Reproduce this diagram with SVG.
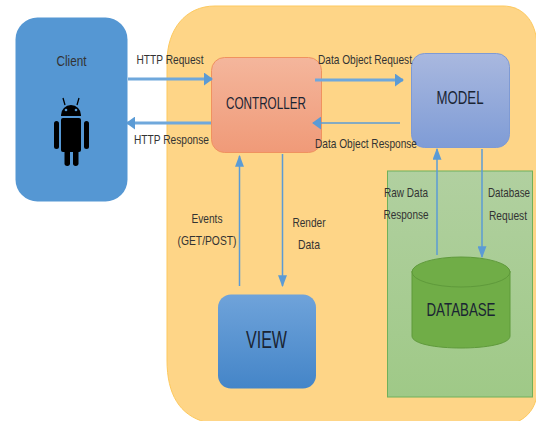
<svg xmlns="http://www.w3.org/2000/svg" width="536" height="421" viewBox="0 0 536 421">
<style>
text{font-family:"Liberation Sans",Arial,sans-serif;text-anchor:middle;fill:#333;}
.l{font-size:13px;}
.n{font-size:17px;fill:#1a2433;}
.c{fill:none;stroke:#5b9bd5;stroke-width:1.500;}
.t{stroke-width:3;stroke:#6fa8dc;}
</style>
<defs>
<linearGradient id="gO" x1="0" y1="0" x2="0" y2="1"><stop offset="0" stop-color="#f4b69c"/><stop offset="1" stop-color="#f09a78"/></linearGradient>
<linearGradient id="gM" x1="0" y1="0" x2="0" y2="1"><stop offset="0" stop-color="#a9b8df"/><stop offset="1" stop-color="#7f9cd6"/></linearGradient>
<linearGradient id="gV" x1="0" y1="0" x2="0" y2="1"><stop offset="0" stop-color="#6fa3da"/><stop offset="1" stop-color="#4485c8"/></linearGradient>
<linearGradient id="gG" x1="0" y1="0" x2="0" y2="1"><stop offset="0" stop-color="#b1d0a0"/><stop offset="1" stop-color="#9fc987"/></linearGradient>
<marker id="a" viewBox="0 0 10 10" refX="9" refY="5" markerWidth="9" markerHeight="13" markerUnits="userSpaceOnUse" orient="auto" preserveAspectRatio="none"><path d="M0 0L10 5L0 10Z" fill="#5b9bd5"/></marker>
<marker id="b" viewBox="0 0 10 10" refX="9" refY="5" markerWidth="12" markerHeight="9" markerUnits="userSpaceOnUse" orient="auto" preserveAspectRatio="none"><path d="M0 0L10 5L0 10Z" fill="#5b9bd5"/></marker>
</defs>
<rect width="536" height="421" fill="#fff"/>
<g id="app-container"><path d="M167 360C167 395 180 415 205 422H517C528 417 535 408 537 395V45C536 20 522 6 503 6H215C185 6 167 30 167 62Z" fill="#fed587" stroke="#fdc95e" stroke-width="1"/></g>
<g id="db-panel"><rect x="387.500" y="171" width="145" height="226" fill="url(#gG)" stroke="#6fb05a" stroke-width="1"/></g>
<g id="client">
<rect x="15.500" y="17.500" width="112" height="184" rx="22" fill="#5597d3"/>
<text class="l" x="71.500" y="66" style="font-size:15px" textLength="30" lengthAdjust="spacingAndGlyphs">Client</text>
<g fill="#000">
<path d="M61 115a10 10 0 0 1 20 0v1h-20z"/>
<path d="M65 105l-2 -7M77 105l2 -7" stroke="#000" stroke-width="1.300"/>
<rect x="61" y="118" width="20" height="34" rx="2"/>
<rect x="54" y="121" width="5" height="28" rx="2.500"/>
<rect x="84" y="121" width="5" height="28" rx="2.500"/>
<rect x="64.500" y="148" width="5.500" height="18" rx="2.700"/>
<rect x="73" y="148" width="5.500" height="18" rx="2.700"/>
</g>
<circle cx="66" cy="110" r="1.300" fill="#5597d3"/><circle cx="76" cy="110" r="1.300" fill="#5597d3"/>
</g>
<g id="controller"><rect x="211.500" y="57.500" width="110" height="95" rx="13" fill="url(#gO)" stroke="#f0925f"/><text class="n" x="266" y="109" textLength="80" lengthAdjust="spacingAndGlyphs">CONTROLLER</text></g>
<g id="model"><rect x="411.500" y="53.500" width="98" height="94" rx="13" fill="url(#gM)" stroke="#7e9ad4"/><text class="n" x="460" y="104" style="font-size:18px" textLength="47" lengthAdjust="spacingAndGlyphs">MODEL</text></g>
<g id="view"><rect x="218" y="294.500" width="98" height="94" rx="13" fill="url(#gV)"/><text class="n" x="266.500" y="348" style="font-size:23px" textLength="41" lengthAdjust="spacingAndGlyphs">VIEW</text></g>
<g id="database"><path d="M412 271V336C412 352 510 352 510 336V271Z" fill="#70ad47" stroke="#5f9a3b"/><ellipse cx="461" cy="272" rx="49" ry="15" fill="#70ad47" stroke="#5f9a3b"/><text class="n" x="461" y="316" style="font-size:19px" textLength="69" lengthAdjust="spacingAndGlyphs">DATABASE</text></g>
<g id="connectors">
<path class="c t" d="M128 79H212" marker-end="url(#a)"/>
<path class="c t" d="M211 123H127" marker-end="url(#a)"/>
<path class="c t" d="M315 80H403" marker-end="url(#a)"/>
<path class="c" d="M400 123H313" marker-end="url(#a)"/>
<path class="c" d="M239.500 286V156" marker-end="url(#b)"/>
<path class="c" d="M282.500 154V286" marker-end="url(#b)"/>
<path class="c" d="M437 255V149" marker-end="url(#b)"/>
<path class="c" d="M482 149V257" marker-end="url(#b)"/>
</g>
<g id="labels">
<text class="l" x="170" y="64" textLength="67" lengthAdjust="spacingAndGlyphs">HTTP Request</text>
<text class="l" x="171.500" y="144" textLength="75" lengthAdjust="spacingAndGlyphs">HTTP Response</text>
<text class="l" x="365" y="64" textLength="94" lengthAdjust="spacingAndGlyphs">Data Object Request</text>
<text class="l" x="366" y="148" textLength="102" lengthAdjust="spacingAndGlyphs">Data Object Response</text>
<text class="l" x="207" y="223" textLength="31" lengthAdjust="spacingAndGlyphs">Events</text>
<text class="l" x="207" y="245" textLength="59" lengthAdjust="spacingAndGlyphs">(GET/POST)</text>
<text class="l" x="309" y="227" textLength="33" lengthAdjust="spacingAndGlyphs">Render</text>
<text class="l" x="309" y="249" textLength="22" lengthAdjust="spacingAndGlyphs">Data</text>
<text class="l" x="406" y="197" textLength="44" lengthAdjust="spacingAndGlyphs">Raw Data</text>
<text class="l" x="406" y="219" textLength="45" lengthAdjust="spacingAndGlyphs">Response</text>
<text class="l" x="509" y="197" textLength="42" lengthAdjust="spacingAndGlyphs">Database</text>
<text class="l" x="508" y="220" textLength="38" lengthAdjust="spacingAndGlyphs">Request</text>
</g>
</svg>
